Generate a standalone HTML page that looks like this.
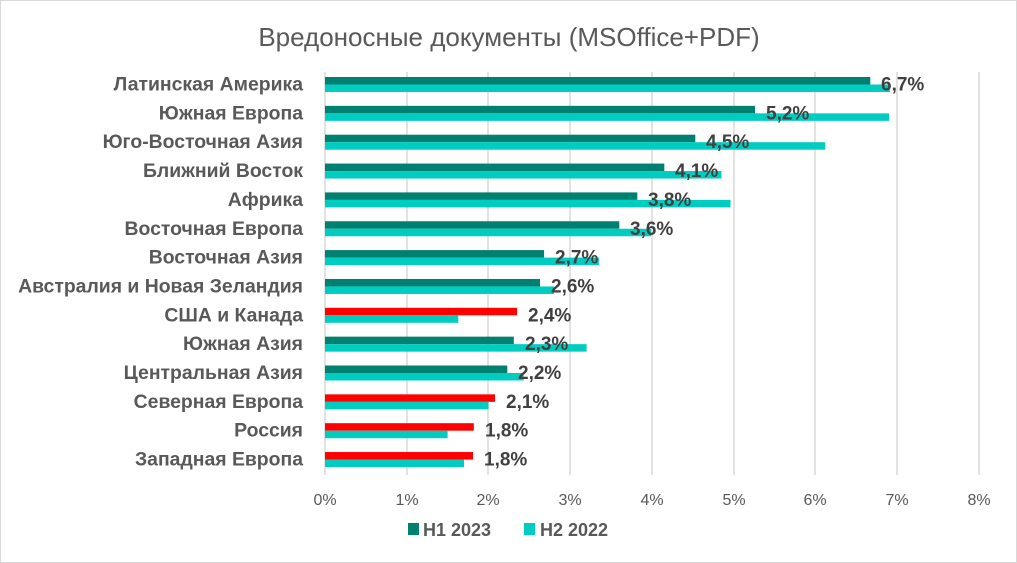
<!DOCTYPE html><html><head><meta charset="utf-8"><style>body{margin:0;background:#fff}svg{display:block}.v{font-size:19px;font-weight:bold;fill:#404040}.l{font-size:19.4px;font-weight:bold;fill:#595959;text-anchor:end}.a{fill:#008070}.r{fill:#ff0000}.c{fill:#00ccc0}</style></head><body>
<svg width="1017" height="563" xmlns="http://www.w3.org/2000/svg" font-family="Liberation Sans, sans-serif">
<rect x="0.5" y="0.5" width="1016" height="562" fill="#fff" stroke="#d9d9d9"/>
<text x="509" y="46" text-anchor="middle" font-size="26" fill="#595959">Вредоносные документы (MSOffice+PDF)</text>
<g stroke="#d9d9d9" stroke-width="1.5">
<line x1="325" y1="72" x2="325" y2="475"/><line x1="407" y1="72" x2="407" y2="475"/><line x1="488" y1="72" x2="488" y2="475"/><line x1="570" y1="72" x2="570" y2="475"/><line x1="652" y1="72" x2="652" y2="475"/><line x1="734" y1="72" x2="734" y2="475"/><line x1="815" y1="72" x2="815" y2="475"/><line x1="897" y1="72" x2="897" y2="475"/><line x1="979" y1="72" x2="979" y2="475"/>
</g>
<g font-size="16" fill="#595959" text-anchor="middle">
<text x="325" y="505">0%</text><text x="407" y="505">1%</text><text x="488" y="505">2%</text><text x="570" y="505">3%</text><text x="652" y="505">4%</text><text x="734" y="505">5%</text><text x="815" y="505">6%</text><text x="897" y="505">7%</text><text x="979" y="505">8%</text>
</g>

<g transform="translate(0,77)"><rect class="a" x="325" y="0" width="545.3" height="7.5"/><rect class="c" x="325" y="7.5" width="564.9" height="7.5"/><text class="v" x="881" y="13.5">6,7%</text><text class="l" x="303" y="13.5">Латинская Америка</text></g>
<g transform="translate(0,105.85)"><rect class="a" x="325" y="0" width="430" height="7.5"/><rect class="c" x="325" y="7.5" width="564.1" height="7.5"/><text class="v" x="766" y="13.5">5,2%</text><text class="l" x="303" y="13.5">Южная Европа</text></g>
<g transform="translate(0,134.7)"><rect class="a" x="325" y="0" width="370.3" height="7.5"/><rect class="c" x="325" y="7.5" width="500.3" height="7.5"/><text class="v" x="706" y="13.5">4,5%</text><text class="l" x="303" y="13.5">Юго-Восточная Азия</text></g>
<g transform="translate(0,163.55)"><rect class="a" x="325" y="0" width="339.3" height="7.5"/><rect class="c" x="325" y="7.5" width="396.5" height="7.5"/><text class="v" x="675" y="13.5">4,1%</text><text class="l" x="303" y="13.5">Ближний Восток</text></g>
<g transform="translate(0,192.4)"><rect class="a" x="325" y="0" width="312.3" height="7.5"/><rect class="c" x="325" y="7.5" width="405.5" height="7.5"/><text class="v" x="648" y="13.5">3,8%</text><text class="l" x="303" y="13.5">Африка</text></g>
<g transform="translate(0,221.25)"><rect class="a" x="325" y="0" width="294.3" height="7.5"/><rect class="c" x="325" y="7.5" width="326.2" height="7.5"/><text class="v" x="630" y="13.5">3,6%</text><text class="l" x="303" y="13.5">Восточная Европа</text></g>
<g transform="translate(0,250.1)"><rect class="a" x="325" y="0" width="219.1" height="7.5"/><rect class="c" x="325" y="7.5" width="273.9" height="7.5"/><text class="v" x="555" y="13.5">2,7%</text><text class="l" x="303" y="13.5">Восточная Азия</text></g>
<g transform="translate(0,278.95)"><rect class="a" x="325" y="0" width="215" height="7.5"/><rect class="c" x="325" y="7.5" width="228.9" height="7.5"/><text class="v" x="551" y="13.5">2,6%</text><text class="l" x="303" y="13.5">Австралия и Новая Зеландия</text></g>
<g transform="translate(0,307.8)"><rect class="r" x="325" y="0" width="192.1" height="7.5"/><rect class="c" x="325" y="7.5" width="133.3" height="7.5"/><text class="v" x="528" y="13.5">2,4%</text><text class="l" x="303" y="13.5">США и Канада</text></g>
<g transform="translate(0,336.65)"><rect class="a" x="325" y="0" width="188.8" height="7.5"/><rect class="c" x="325" y="7.5" width="261.6" height="7.5"/><text class="v" x="525" y="13.5">2,3%</text><text class="l" x="303" y="13.5">Южная Азия</text></g>
<g transform="translate(0,365.5)"><rect class="a" x="325" y="0" width="182.3" height="7.5"/><rect class="c" x="325" y="7.5" width="198.7" height="7.5"/><text class="v" x="518" y="13.5">2,2%</text><text class="l" x="303" y="13.5">Центральная Азия</text></g>
<g transform="translate(0,394.35)"><rect class="r" x="325" y="0" width="170" height="7.5"/><rect class="c" x="325" y="7.5" width="163.5" height="7.5"/><text class="v" x="506" y="13.5">2,1%</text><text class="l" x="303" y="13.5">Северная Европа</text></g>
<g transform="translate(0,423.2)"><rect class="r" x="325" y="0" width="148.8" height="7.5"/><rect class="c" x="325" y="7.5" width="122.6" height="7.5"/><text class="v" x="485" y="13.5">1,8%</text><text class="l" x="303" y="13.5">Россия</text></g>
<g transform="translate(0,452.05)"><rect class="r" x="325" y="0" width="148" height="7.5"/><rect class="c" x="325" y="7.5" width="139" height="7.5"/><text class="v" x="484" y="13.5">1,8%</text><text class="l" x="303" y="13.5">Западная Европа</text></g>

<g font-size="18" font-weight="bold" fill="#595959">
<rect x="408" y="523" width="11" height="12" fill="#008070"/><text x="423" y="536">H1 2023</text>
<rect x="524" y="523" width="11" height="12" fill="#00ccc0"/><text x="540" y="536">H2 2022</text>
</g>
</svg></body></html>
